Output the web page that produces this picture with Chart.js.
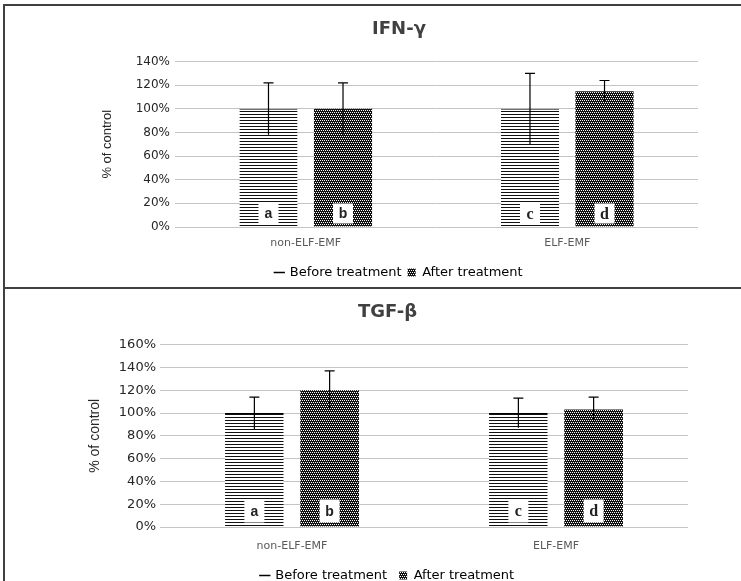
<!DOCTYPE html>
<html>
<head>
<meta charset="utf-8">
<script src="https://cdn.jsdelivr.net/npm/chart.js@4.4.1/dist/chart.umd.min.js"></script>
<style>
  html, body { margin: 0; padding: 0; background: #fff; }
  body { width: 741px; height: 581px; overflow: hidden; position: relative; }
  .frame { position: absolute; background: #404040; }
  canvas { position: absolute; left: 0; }
</style>
</head>
<body>
<canvas id="ifnChart" width="741" height="289" style="top:0"></canvas>
<canvas id="tgfChart" width="741" height="304" style="top:288px"></canvas>
<div class="frame" style="left:3px; top:4px; width:2px; height:577px"></div>
<div class="frame" style="left:3px; top:4px; width:738px; height:2px"></div>
<div class="frame" style="left:3px; top:287px; width:738px; height:2px"></div>
<script>
// data
const categories = ['non-ELF-EMF', 'ELF-EMF'];
const seriesNames = ['Before treatment', 'After treatment'];
const barLetters = [['a', 'c'], ['b', 'd']];

const ifnBefore = [100, 100];
const ifnAfter = [100, 115];
const ifnBeforeErr = [22, 30];
const ifnAfterErr = [22, 9];

const tgfBefore = [100, 100];
const tgfAfter = [120, 103];
const tgfBeforeErr = [14, 13];
const tgfAfterErr = [17, 11];

const ifnMax = 140;
const tgfMax = 160;
const tickStep = 20;

// fill patterns
function linesPattern() {
    const c = document.createElement('canvas');
    c.width = 4; c.height = 3;
    const g = c.getContext('2d');
    g.fillStyle = '#fff';
    g.fillRect(0, 0, 4, 3);
    g.fillStyle = '#111';
    g.fillRect(0, 0, 4, 1);
    return g.createPattern(c, 'repeat');
}

function dotsPattern() {
    const c = document.createElement('canvas');
    c.width = 4; c.height = 4;
    const g = c.getContext('2d');
    g.fillStyle = '#111';
    g.fillRect(0, 0, 4, 4);
    g.fillStyle = '#fff';
    [[0, 0], [2, 0], [1, 2], [3, 2]].forEach(p => g.fillRect(p[0], p[1], 1, 1));
    return g.createPattern(c, 'repeat');
}

const beforeFill = linesPattern();
const afterFill = dotsPattern();

// error bars drawn through the y scale
const errorBars = {
    id: 'errorBars',
    afterDatasetsDraw(chart) {
        const ctx = chart.ctx;
        const y = chart.scales.y;
        ctx.save();
        ctx.strokeStyle = '#000';
        ctx.lineWidth = 1.2;
        chart.data.datasets.forEach((ds, i) => {
            chart.getDatasetMeta(i).data.forEach((bar, j) => {
                const v = ds.data[j];
                const e = ds.errors[j];
                const top = y.getPixelForValue(v + e);
                const bot = y.getPixelForValue(v - e);
                ctx.beginPath();
                ctx.moveTo(bar.x, top);
                ctx.lineTo(bar.x, bot);
                ctx.moveTo(bar.x - 5, top);
                ctx.lineTo(bar.x + 5, top);
                ctx.stroke();
            });
        });
        ctx.restore();
    }
};

// white boxes with letters at the foot of each bar
const barTags = {
    id: 'barTags',
    afterDatasetsDraw(chart, args, opts) {
        const ctx = chart.ctx;
        ctx.save();
        chart.data.datasets.forEach((ds, i) => {
            chart.getDatasetMeta(i).data.forEach((bar, j) => {
                const top = bar.base - opts.lift - opts.h;
                ctx.fillStyle = '#fff';
                ctx.fillRect(bar.x - 10, top, 20, opts.h);
                ctx.fillStyle = '#222';
                ctx.font = j === 0 ? 'bold 14px "Liberation Sans", Arial, sans-serif' : 'bold 16px "Liberation Serif", serif';
                ctx.textAlign = 'center';
                ctx.textBaseline = 'middle';
                ctx.fillText(barLetters[i][j], bar.x, top + opts.h / 2 + 1);
            });
        });
        ctx.restore();
    }
};

function makeChart(id, p) {
    new Chart(document.getElementById(id), {
        type: 'bar',
        data: {
            labels: categories,
            datasets: [{
                label: seriesNames[0],
                data: p.before,
                errors: p.beforeErr,
                backgroundColor: beforeFill,
                borderColor: '#000',
                borderWidth: { top: 1, left: 0, right: 0, bottom: 0 },
                borderSkipped: 'start',
                categoryPercentage: 0.57,
                barPercentage: 0.78
            }, {
                label: seriesNames[1],
                data: p.after,
                errors: p.afterErr,
                backgroundColor: afterFill,
                borderWidth: 0,
                categoryPercentage: 0.57,
                barPercentage: 0.78
            }]
        },
        options: {
            responsive: false,
            animation: false,
            layout: { padding: { left: p.padLeft, right: p.padRight, top: 0, bottom: 0 } },
            scales: {
                x: {
                    grid: { display: false, drawTicks: false },
                    border: { display: false },
                    ticks: { color: '#595959', padding: p.xPad, font: { family: 'DejaVu Sans', size: 11 } },
                    afterFit: s => { s.height = p.xHeight; }
                },
                y: {
                    min: 0,
                    max: p.max,
                    grid: { color: '#c4c4c4', drawTicks: false },
                    border: { display: false },
                    ticks: {
                        stepSize: tickStep,
                        padding: p.yPad,
                        color: '#262626',
                        font: { family: 'DejaVu Sans', size: p.tickSize },
                        callback: v => v + '%'
                    },
                    title: {
                        display: true,
                        text: '% of control',
                        color: '#262626',
                        padding: { top: 0, bottom: 0 },
                        font: { family: 'Liberation Sans', size: p.yTitleSize }
                    },
                    afterFit: s => { s.width = p.yWidth; }
                }
            },
            plugins: {
                title: {
                    display: true,
                    text: p.title,
                    color: '#404040',
                    font: { family: 'DejaVu Sans', size: 18, weight: 'bold' },
                    padding: { top: p.titleTop, bottom: p.titleBottom }
                },
                legend: {
                    position: 'bottom',
                    labels: {
                        usePointStyle: true,
                        boxWidth: 8,
                        boxHeight: 8,
                        padding: p.legendPad,
                        color: '#1a1a1a',
                        font: { family: 'DejaVu Sans', size: 13 },
                        generateLabels: chart => chart.data.datasets.map((ds, i) => ({
                            text: ds.label,
                            fillStyle: i === 0 ? '#000' : afterFill,
                            strokeStyle: '#000',
                            lineWidth: i === 0 ? 1.5 : 0,
                            pointStyle: i === 0 ? 'line' : 'rect',
                            datasetIndex: i,
                            hidden: false
                        }))
                    }
                },
                tooltip: { enabled: false },
                barTags: { lift: p.tagLift, h: p.tagH }
            }
        },
        plugins: [errorBars, barTags]
    });
}

makeChart('ifnChart', {
    title: 'IFN-γ', max: ifnMax,
    before: ifnBefore, after: ifnAfter, beforeErr: ifnBeforeErr, afterErr: ifnAfterErr,
    padLeft: 100, padRight: 43, yWidth: 75, yPad: 5, tickSize: 12, yTitleSize: 13,
    xPad: 10, xHeight: 33, legendPad: 6,
    titleTop: 19, titleBottom: 21,
    tagLift: 3, tagH: 20
});

makeChart('tgfChart', {
    title: 'TGF-β', max: tgfMax,
    before: tgfBefore, after: tgfAfter, beforeErr: tgfBeforeErr, afterErr: tgfAfterErr,
    padLeft: 87, padRight: 53, yWidth: 73, yPad: 4, tickSize: 13, yTitleSize: 14,
    xPad: 13, xHeight: 30, legendPad: 12,
    titleTop: 14, titleBottom: 21,
    tagLift: 4, tagH: 23
});
</script>
</body>
</html>
